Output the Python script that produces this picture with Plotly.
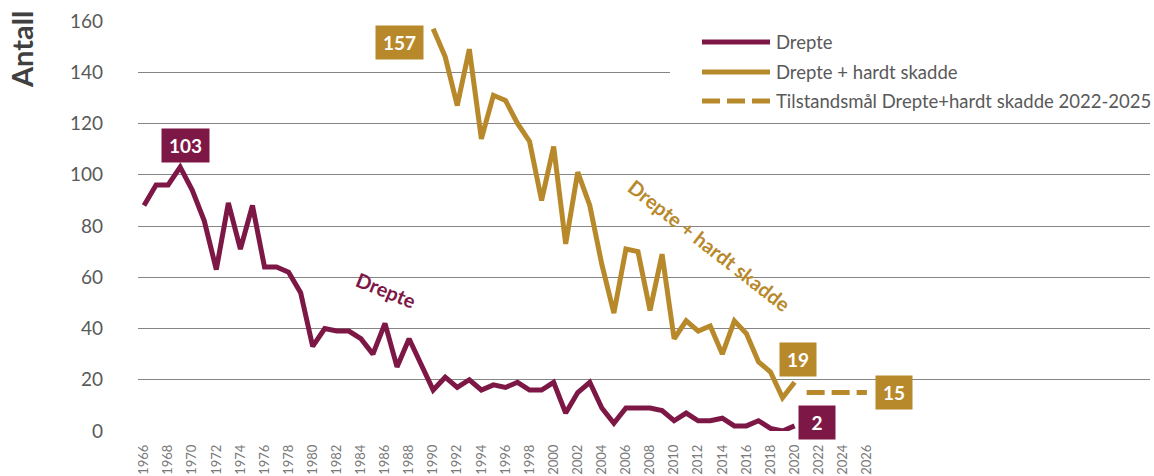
import plotly.graph_objects as go

# ---------------- data ----------------
years_drepte = list(range(1966, 2021))
drepte = [88, 96, 96, 103, 94, 82, 63, 89, 71, 88,
          64, 64, 62, 54, 33, 40, 39, 39, 36, 30,
          42, 25, 36, 26, 16, 21, 17, 20, 16, 18,
          17, 19, 16, 16, 19, 7, 15, 19, 9, 3,
          9, 9, 9, 8, 4, 7, 4, 4, 5, 2,
          2, 4, 1, 0, 2]

years_dhs = list(range(1990, 2021))
drepte_hardt = [157, 146, 127, 149, 114, 131, 129, 120, 113, 90,
                111, 73, 101, 88, 65, 46, 71, 70, 47, 69,
                36, 43, 39, 41, 30, 43, 38, 27, 23, 13,
                19]

years_target = list(range(2021, 2027))
target = [15, 15, 15, 15, 15, 15]

tick_years = list(range(1966, 2027, 2))
tick_labels = [str(y) for y in tick_years]
y_ticks = list(range(0, 161, 20))

series_names = ["Drepte", "Drepte + hardt skadde",
                "Tilstandsmål Drepte+hardt skadde 2022-2025"]

# ---------------- styles ----------------
MAROON = "#7D1846"
GOLD = "#B8892B"
GRAY = "#595959"
FONT = "Lato"
LW = 5
DASH = "18px,7px"

W, H = 1154, 476
ML, MR, MT, MB = 138, 4, 21, 45
PW, PH = W - ML - MR, H - MT - MB


def px_x(px):
    return (px - ML) / PW


def px_y(py):
    return (H - MB - py) / PH


fig = go.Figure()
fig.add_trace(go.Scatter(x=years_drepte, y=drepte, mode="lines", name=series_names[0],
                         line=dict(color=MAROON, width=LW), showlegend=False))
fig.add_trace(go.Scatter(x=years_dhs, y=drepte_hardt, mode="lines", name=series_names[1],
                         line=dict(color=GOLD, width=LW), showlegend=False))
fig.add_trace(go.Scatter(x=years_target, y=target, mode="lines", name=series_names[2],
                         line=dict(color=GOLD, width=LW, dash=DASH), showlegend=False))

annotations = []


def box(x, y, text, color, xs, ys, w):
    annotations.append(dict(x=x, y=y, xref="x", yref="y", text="<b>%s</b>" % text,
                            showarrow=False, xshift=xs, yshift=ys,
                            bgcolor=color, borderpad=0, width=w, height=33,
                            font=dict(family=FONT, size=19, color="white")))


i_max = drepte.index(max(drepte))
box(years_drepte[i_max], drepte[i_max], drepte[i_max], MAROON, 5.5, 22, 47)
box(years_drepte[-1], drepte[-1], drepte[-1], MAROON, 22, 3, 36)
box(years_dhs[0], drepte_hardt[0], drepte_hardt[0], GOLD, -34, -14, 47)
box(years_dhs[-1], drepte_hardt[-1], drepte_hardt[-1], GOLD, 3, 23, 36)
box(years_target[-1], target[-1], target[-1], GOLD, 27, 0, 36)

# rotated series labels
annotations.append(dict(x=1986.1, y=55, xref="x", yref="y", text="<b>Drepte</b>",
                        showarrow=False, textangle=22,
                        font=dict(family=FONT, size=20, color=MAROON)))
annotations.append(dict(x=2012.9, y=72.5, xref="x", yref="y",
                        text="<b>Drepte + hardt skadde</b>",
                        showarrow=False, textangle=38,
                        font=dict(family=FONT, size=20, color=GOLD)))

# y-axis title
annotations.append(dict(x=px_x(22), y=px_y(50), xref="paper", yref="paper",
                        xanchor="center", yanchor="middle",
                        text="<b>Antall</b>", showarrow=False, textangle=-90,
                        font=dict(family=FONT, size=29, color="#404040")))

# custom legend
shapes = [dict(type="rect", xref="paper", yref="paper",
               x0=px_x(670), x1=px_x(1152), y0=px_y(118), y1=px_y(26),
               fillcolor="white", line=dict(width=0), layer="above")]
leg_y = [42, 72, 101]
leg_colors = [MAROON, GOLD, GOLD]
leg_dash = ["solid", "solid", DASH]
for name, ly, c, d in zip(series_names, leg_y, leg_colors, leg_dash):
    shapes.append(dict(type="line", xref="paper", yref="paper",
                       x0=px_x(702), x1=px_x(770), y0=px_y(ly), y1=px_y(ly),
                       line=dict(color=c, width=LW, dash=d), layer="above"))
    annotations.append(dict(x=px_x(774), y=px_y(ly), xref="paper", yref="paper",
                            xanchor="left", yanchor="middle", text=name, showarrow=False,
                            font=dict(family=FONT, size=18.5, color=GRAY)))

fig.update_layout(
    width=W, height=H,
    margin=dict(l=ML, r=MR, t=MT, b=MB, pad=0, autoexpand=False),
    paper_bgcolor="white", plot_bgcolor="white",
    font=dict(family=FONT, color=GRAY),
    showlegend=False,
    annotations=annotations,
    shapes=shapes,
    xaxis=dict(range=[1965.5, 2049.5], tickmode="array", tickvals=tick_years,
               ticktext=tick_labels, tickangle=-90, showgrid=False, zeroline=False,
               showline=False, ticks="", ticklabelstandoff=10, automargin=False,
               tickfont=dict(family=FONT, size=13, color="#7a7a7a")),
    yaxis=dict(range=[0, 160], tickmode="array", tickvals=y_ticks, showgrid=True,
               gridcolor="#858585", gridwidth=1, zeroline=False, showline=False,
               ticks="", ticklabelstandoff=34, automargin=False,
               tickfont=dict(family=FONT, size=19, color=GRAY)),
)

fig.write_html("out.html", config={"displayModeBar": False},
               post_script="document.body.style.margin='0';document.body.style.overflow='hidden';")
